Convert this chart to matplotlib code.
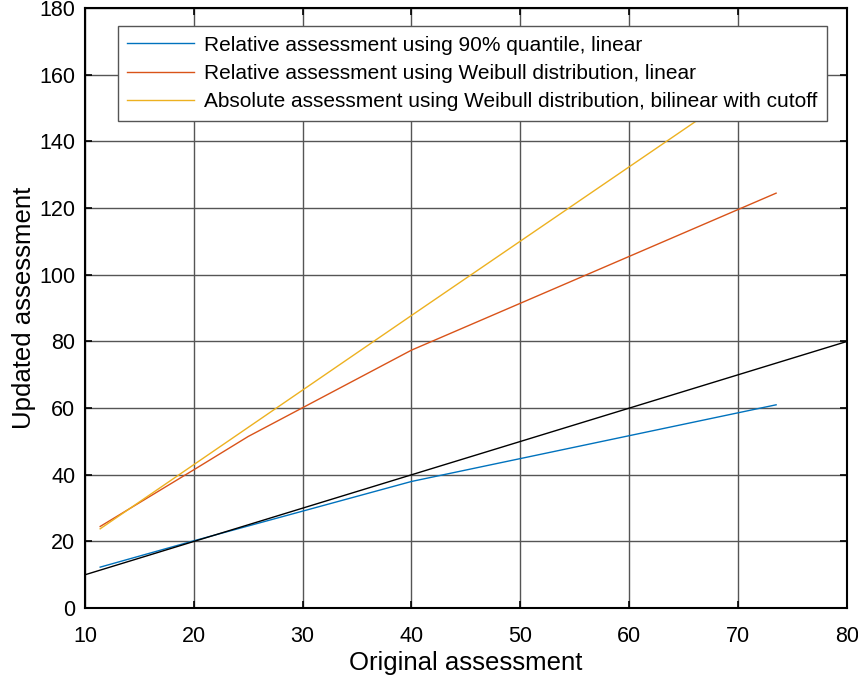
import matplotlib
matplotlib.use("Agg")
import matplotlib.pyplot as plt

plt.rcParams['font.family'] = ['Liberation Sans', 'DejaVu Sans']

# Original assessment breakpoints and updated values for each method
x_quant = [11.4, 20, 40, 73.5]
y_quant = [12.3, 20.2, 38.0, 61.0]

x_weib = [11.4, 20, 25, 40, 73.5]
y_weib = [24.5, 41.5, 51.5, 77.4, 124.5]

x_abs = [11.4, 40, 73.5]
y_abs = [23.8, 87.8, 162.5]

x_ref = [10, 80]
y_ref = [10, 80]

labels = [
    "Relative assessment using 90% quantile, linear",
    "Relative assessment using Weibull distribution, linear",
    "Absolute assessment using Weibull distribution, bilinear with cutoff",
]

fig = plt.figure(figsize=(8.58, 6.81), dpi=100)
ax = fig.add_axes([0.099, 0.107, 0.888, 0.881])

ax.plot(x_quant, y_quant, color="#0072BD", lw=1.0, label=labels[0])
ax.plot(x_weib, y_weib, color="#D95319", lw=1.0, label=labels[1])
ax.plot(x_abs, y_abs, color="#EDB120", lw=1.0, label=labels[2])
ax.plot(x_ref, y_ref, color="black", lw=1.0)

ax.set_xlim(10, 80)
ax.set_ylim(0, 180)
ax.set_xticks(range(10, 81, 10))
ax.set_yticks(range(0, 181, 20))
ax.grid(True, color="#555555", lw=1.0)
ax.tick_params(direction="in", top=True, right=True, length=5, width=1.2,
               labelsize=15.5)
ax.tick_params(axis="x", pad=13)
ax.tick_params(axis="y", pad=7)
for s in ax.spines.values():
    s.set_linewidth(1.5)

ax.set_xlabel("Original assessment", fontsize=18.5, labelpad=3)
ax.set_ylabel("Updated assessment", fontsize=18.5, labelpad=2)

leg = ax.legend(loc="upper left", bbox_to_anchor=(0.043, 0.97), fontsize=15,
                frameon=True, fancybox=False, edgecolor="#555555",
                framealpha=1.0, handlelength=3.2, borderaxespad=0,
                labelspacing=0.45, handletextpad=0.5, borderpad=0.45)
leg.get_frame().set_linewidth(1.0)

fig.savefig("out.png", dpi=100)
